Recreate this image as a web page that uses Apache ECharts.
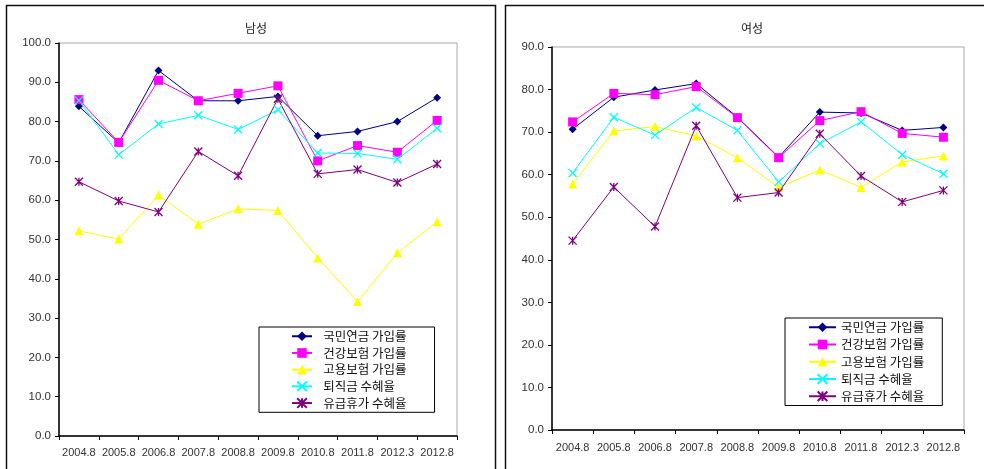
<!DOCTYPE html>
<html><head><meta charset="utf-8">
<script src="https://cdn.jsdelivr.net/npm/echarts@6/dist/echarts.min.js"></script>
<style>html,body{margin:0;padding:0;background:#fff}#c{width:984px;height:469px}</style>
</head><body><div id="c"></div>
<script>
const categories = ['2004.8','2005.8','2006.8','2007.8','2008.8','2009.8','2010.8','2011.8','2012.3','2012.8'];
const seriesNames = ['국민연금 가입률','건강보험 가입률','고용보험 가입률','퇴직금 수혜율','유급휴가 수혜율'];

const male_pension   = [83.9, 74.6, 93.0, 85.3, 85.3, 86.4, 76.4, 77.5, 80.0, 86.1];
const male_health    = [85.6, 74.7, 90.5, 85.3, 87.2, 89.1, 70.0, 73.9, 72.2, 80.3];
const male_employ    = [52.2, 50.1, 61.3, 53.9, 57.8, 57.4, 45.3, 34.2, 46.6, 54.5];
const male_severance = [85.4, 71.6, 79.4, 81.6, 78.0, 83.0, 72.0, 71.9, 70.4, 78.3];
const male_leave     = [64.7, 59.8, 57.0, 72.4, 66.2, 85.8, 66.7, 67.8, 64.5, 69.2];

const female_pension   = [70.7, 78.2, 79.9, 81.4, 73.5, 64.1, 74.7, 74.5, 70.4, 71.1];
const female_health    = [72.4, 79.1, 78.8, 80.7, 73.4, 64.0, 72.7, 74.8, 69.7, 68.8];
const female_employ    = [57.8, 70.3, 71.3, 69.1, 64.0, 57.0, 61.1, 57.0, 63.0, 64.4];
const female_severance = [60.4, 73.5, 69.3, 75.8, 70.4, 58.3, 67.3, 72.4, 64.7, 60.2];
const female_leave     = [44.5, 57.1, 47.8, 71.5, 54.6, 55.8, 69.6, 59.7, 53.6, 56.3];

const titles = ['남성', '여성'];

const colors = ['#000080', '#FF00FF', '#FFFF00', '#00FFFF', '#800080'];
const symbols = ['diamond', 'rect', 'triangle',
  'path://M0,0L10,10M10,0L0,10',
  'path://M0,0L10,10M10,0L0,10M5,0L5,10'];
const sizes = [8, 9, 9, 8, 8];

const maleData = [male_pension, male_health, male_employ, male_severance, male_leave];
const femaleData = [female_pension, female_health, female_employ, female_severance, female_leave];

const numFont = 'Liberation Sans, Arial, sans-serif';
const krFont = '"Noto Sans CJK KR", sans-serif';

function mkSeries(data, gi) {
  return data.map((d, i) => ({
    name: seriesNames[i],
    type: 'line',
    xAxisIndex: gi, yAxisIndex: gi,
    data: d,
    symbol: symbols[i],
    symbolSize: sizes[i],
    showAllSymbol: true,
    lineStyle: { color: colors[i], width: 1 },
    itemStyle: i >= 3
      ? { color: colors[i], borderColor: colors[i], borderWidth: 1.3 }
      : { color: colors[i], borderColor: colors[i], borderWidth: 0 },
    animation: false,
    z: 3
  }));
}

function xAxis(gi, margin) {
  return {
    type: 'category', gridIndex: gi, data: categories, boundaryGap: true,
    axisLine: { lineStyle: { color: '#000', width: 1.5 } },
    axisTick: { show: true, length: 4, lineStyle: { color: '#000' }, interval: 0 },
    axisLabel: { color: '#333', fontSize: 11, fontFamily: numFont, margin: margin, interval: 0 },
    splitLine: { show: false }
  };
}
function yAxis(gi, max) {
  return {
    type: 'value', gridIndex: gi, min: 0, max: max, interval: 10,
    axisLine: { show: true, lineStyle: { color: '#000', width: 1.5 } },
    axisTick: { show: true, length: 4, lineStyle: { color: '#000' } },
    axisLabel: { color: '#333', fontSize: 11.5, fontFamily: numFont, margin: 8,
      formatter: v => v.toFixed(1) },
    splitLine: { show: false }
  };
}

const legendBase = {
  orient: 'vertical',
  backgroundColor: '#fff',
  borderColor: '#000', borderWidth: 1,
  itemHeight: 12,
  textStyle: { color: '#111', fontSize: 12.5, fontFamily: krFont },
  data: seriesNames,
  selectedMode: false
};

const option = {
  animation: false,
  backgroundColor: '#fff',
  title: [
    { text: titles[0], left: 251, top: 17, textAlign: 'center',
      textStyle: { fontSize: 12, fontWeight: 'normal', color: '#222', fontFamily: krFont } },
    { text: titles[1], left: 747, top: 17, textAlign: 'center',
      textStyle: { fontSize: 12, fontWeight: 'normal', color: '#222', fontFamily: krFont } }
  ],
  grid: [
    { left: 59, top: 43, width: 398, height: 393, show: true, borderColor: '#aaa', borderWidth: 1, backgroundColor: '#fff' },
    { left: 552, top: 47, width: 412, height: 383, show: true, borderColor: '#aaa', borderWidth: 1, backgroundColor: '#fff' }
  ],
  xAxis: [xAxis(0, 11), xAxis(1, 12)],
  yAxis: [yAxis(0, 100), yAxis(1, 90)],
  legend: [
    Object.assign({}, legendBase, { left: 259, top: 327, itemWidth: 20, itemGap: 4.2,
      padding: [3, 28, 3, 32], formatter: n => '\u2002' + n }),
    Object.assign({}, legendBase, { left: 785, top: 318, itemWidth: 27, itemGap: 4.75,
      padding: [3, 18, 3, 23] })
  ],
  graphic: [
    { type: 'rect', z: -1, shape: { x: 6.5, y: 5.5, width: 489, height: 480 },
      style: { fill: 'none', stroke: '#111', lineWidth: 1.5 } },
    { type: 'rect', z: -1, shape: { x: 505.5, y: 5.5, width: 490, height: 480 },
      style: { fill: 'none', stroke: '#111', lineWidth: 1.5 } }
  ],
  series: mkSeries(maleData, 0).concat(mkSeries(femaleData, 1))
};

const chart = echarts.init(document.getElementById('c'), null, { renderer: 'canvas' });
chart.setOption(option);
</script>
</body></html>
